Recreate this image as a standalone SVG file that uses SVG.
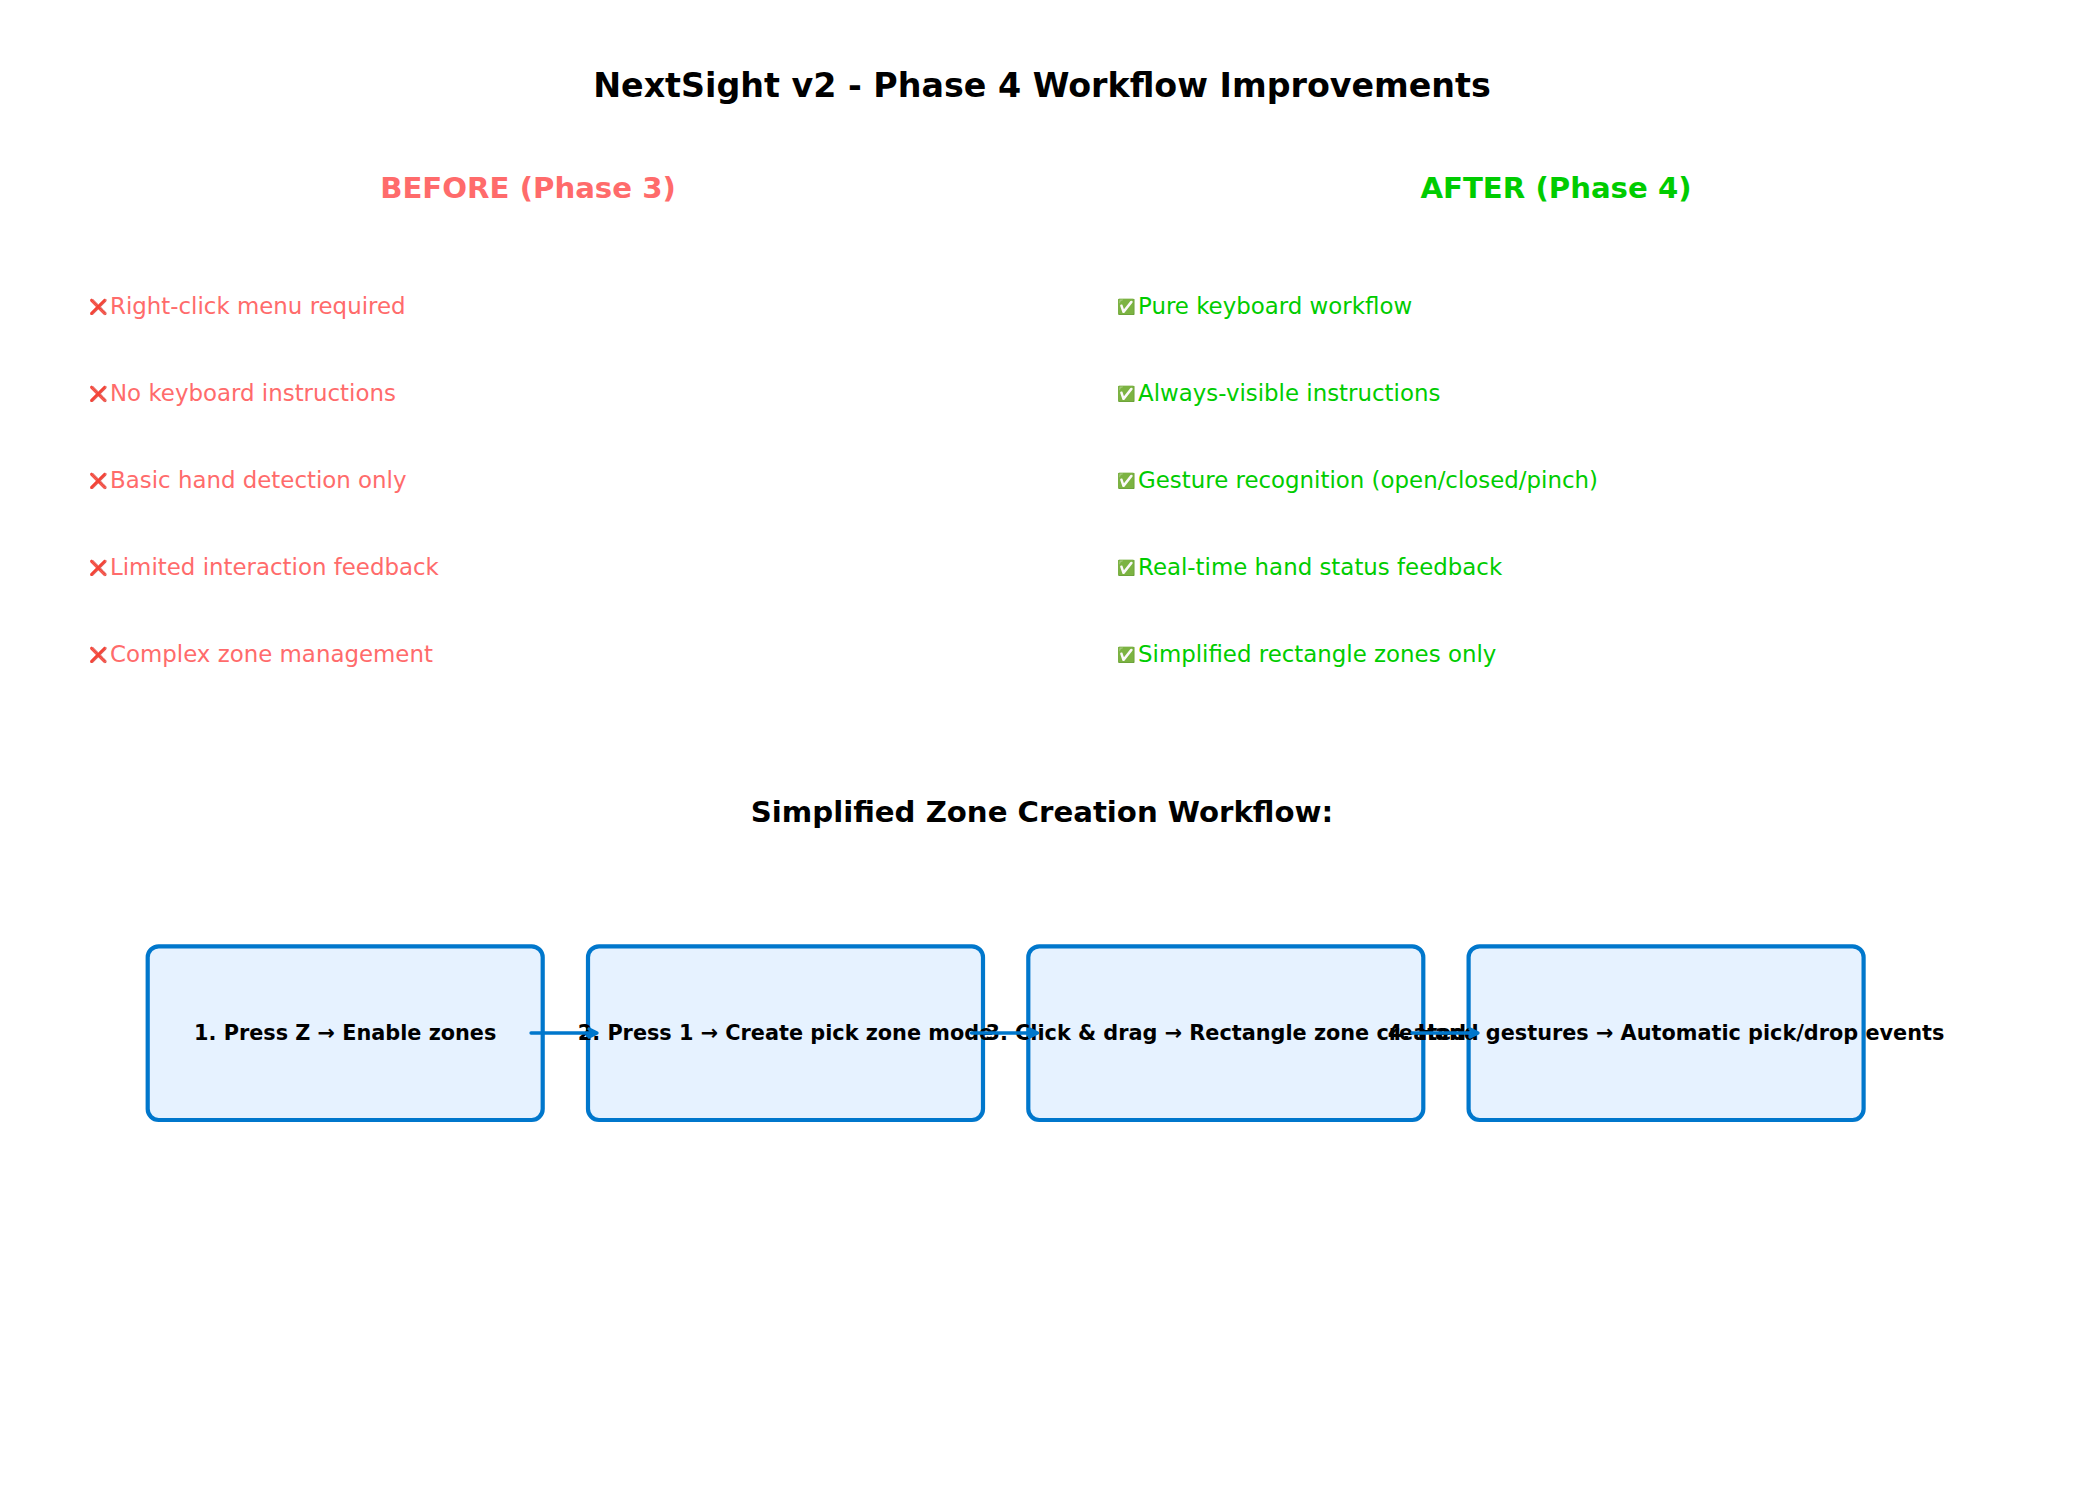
<svg xmlns="http://www.w3.org/2000/svg" width="2085" height="1485" viewBox="0 0 2085 1485">
<style>
text { font-family: "DejaVu Sans", "Noto Sans", sans-serif; }
.title { font-size: 33.3px; font-weight: bold; fill: #000; text-anchor: middle; }
.head { font-size: 29.2px; font-weight: bold; text-anchor: middle; }
.item { font-size: 22.9px; }
.ic { font-size: 15px; }
.bad { fill: #FF6B6B; }
.good { fill: #00CC00; }
.box { fill: #E6F2FF; stroke: #0077CC; stroke-width: 4.2; }
.lbl { font-size: 20.8px; font-weight: bold; fill: #000; text-anchor: middle; }
.conn { fill: none; stroke: #0077CC; stroke-width: 3.3; stroke-linecap: round; stroke-linejoin: round; }
</style>
<rect width="2085" height="1485" fill="#FFFFFF"/>
<text class="title" x="1042" y="97">NextSight v2 - Phase 4 Workflow Improvements</text>
<text class="head bad" x="528" y="198">BEFORE (Phase 3)</text>
<text class="head good" x="1556" y="198">AFTER (Phase 4)</text>
<g id="before-list">
<text class="item bad" x="89" y="312"><tspan class="ic">❌</tspan> <tspan x="110" y="314">Right-click menu required</tspan></text>
<text class="item bad" x="89" y="399"><tspan class="ic">❌</tspan> <tspan x="110" y="401">No keyboard instructions</tspan></text>
<text class="item bad" x="89" y="486"><tspan class="ic">❌</tspan> <tspan x="110" y="488">Basic hand detection only</tspan></text>
<text class="item bad" x="89" y="573"><tspan class="ic">❌</tspan> <tspan x="110" y="575">Limited interaction feedback</tspan></text>
<text class="item bad" x="89" y="660"><tspan class="ic">❌</tspan> <tspan x="110" y="662">Complex zone management</tspan></text>
</g>
<g id="after-list">
<text class="item good" x="1117" y="312"><tspan class="ic">✅</tspan> <tspan x="1138" y="314">Pure keyboard workflow</tspan></text>
<text class="item good" x="1117" y="399"><tspan class="ic">✅</tspan> <tspan x="1138" y="401">Always-visible instructions</tspan></text>
<text class="item good" x="1117" y="486"><tspan class="ic">✅</tspan> <tspan x="1138" y="488">Gesture recognition (open/closed/pinch)</tspan></text>
<text class="item good" x="1117" y="573"><tspan class="ic">✅</tspan> <tspan x="1138" y="575">Real-time hand status feedback</tspan></text>
<text class="item good" x="1117" y="660"><tspan class="ic">✅</tspan> <tspan x="1138" y="662">Simplified rectangle zones only</tspan></text>
</g>
<text class="head" x="1042" y="822" fill="#000">Simplified Zone Creation Workflow:</text>
<g id="step1">
<rect class="box" x="147.7" y="946.3" width="395" height="173.7" rx="11"/>
<text class="lbl" x="345.2" y="1040">1. Press Z → Enable zones</text>
</g>
<g id="step2">
<rect class="box" x="588" y="946.3" width="395" height="173.7" rx="11"/>
<text class="lbl" x="785.5" y="1040">2. Press 1 → Create pick zone mode</text>
</g>
<g id="step3">
<rect class="box" x="1028.3" y="946.3" width="395" height="173.7" rx="11"/>
<text class="lbl" x="1225.8" y="1040">3. Click &amp; drag → Rectangle zone created</text>
</g>
<g id="step4">
<rect class="box" x="1468.6" y="946.3" width="395" height="173.7" rx="11"/>
<text class="lbl" x="1666.1" y="1040">4. Hand gestures → Automatic pick/drop events</text>
</g>
<g id="connectors">
<path class="conn" d="M531,1033 H597 M589,1029 L597,1033 L589,1037"/>
<path class="conn" d="M971.5,1033 H1037.5 M1029.5,1029 L1037.5,1033 L1029.5,1037"/>
<path class="conn" d="M1412,1033 H1478 M1470,1029 L1478,1033 L1470,1037"/>
</g>
</svg>
